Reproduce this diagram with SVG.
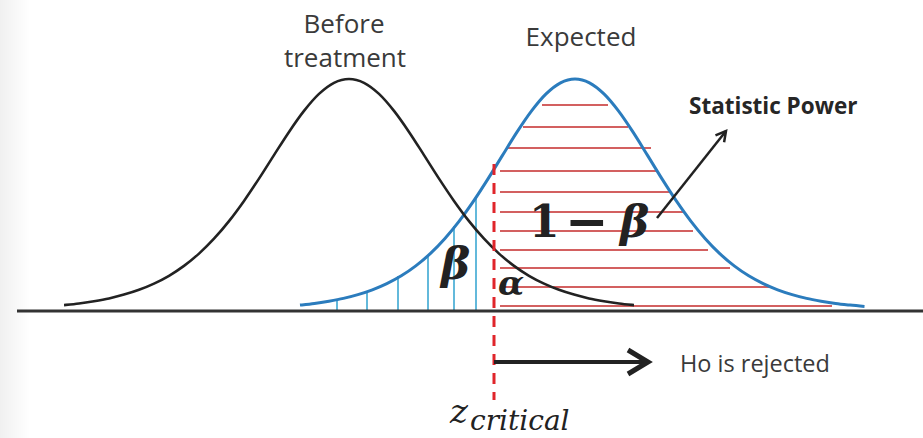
<svg xmlns="http://www.w3.org/2000/svg" xmlns:xlink="http://www.w3.org/1999/xlink" width="923" height="438" viewBox="0 0 923 438">
<style>
.lbl{font-family:"Open Sans","Noto Sans","Liberation Sans",sans-serif;fill:#3a3a3a}
.math{font-family:"DejaVu Serif","Liberation Serif",serif;fill:#222}
.red{stroke:#c42b2b;stroke-width:1.6}
.vb{stroke:#2fa2cf;stroke-width:1.5}
.arrow{stroke:#222;fill:none}
</style>
<defs>
<linearGradient id="edge" x1="0" y1="0" x2="1" y2="0">
<stop offset="0" stop-color="#f0f0f0"/>
<stop offset="1" stop-color="#ffffff"/>
</linearGradient>
<clipPath id="blackclip"><rect x="-285" y="0" width="570" height="438"/></clipPath>
<path id="bell" fill="none" d="M-285,304.1 C-280,303.61 -275,303.15 -270,302.5 C-265,301.85 -260,301.05 -255,300.2 C-250,299.35 -245,298.5 -240,297.4 C-235,296.3 -230,295.03 -225,293.6 C-220,292.17 -215,290.63 -210,288.8 C-205,286.97 -200,284.93 -195,282.6 C-190,280.27 -185,277.75 -180,274.8 C-175,271.85 -170,268.6 -165,264.9 C-160,261.2 -155,257.13 -150,252.6 C-145,248.07 -140,243.12 -135,237.7 C-130,232.28 -125,226.4 -120,220.1 C-115,213.8 -110,206.98 -105,199.9 C-100,192.82 -95,185.23 -90,177.6 C-85,169.97 -80,161.88 -75,154.1 C-70,146.32 -65,138.27 -60,130.9 C-55,123.53 -50,116.23 -45,109.9 C-40,103.57 -35,97.58 -30,92.9 C-25,88.22 -20,84.28 -15,81.8 C-10,79.32 -5,78 0,78 C5,78 10,79.32 15,81.8 C20,84.28 25,88.22 30,92.9 C35,97.58 40,103.57 45,109.9 C50,116.23 55,123.53 60,130.9 C65,138.27 70,146.32 75,154.1 C80,161.88 85,169.97 90,177.6 C95,185.23 100,192.82 105,199.9 C110,206.98 115,213.8 120,220.1 C125,226.4 130,232.28 135,237.7 C140,243.12 145,248.07 150,252.6 C155,257.13 160,261.2 165,264.9 C170,268.6 175,271.85 180,274.8 C185,277.75 190,280.27 195,282.6 C200,284.93 205,286.97 210,288.8 C215,290.63 220,292.17 225,293.6 C230,295.03 235,296.3 240,297.4 C245,298.5 250,299.35 255,300.2 C260,301.05 265,301.85 270,302.5 C275,303.15 280,303.61 285,304.1 C290,304.6 295,305 300,305.4" vector-effect="non-scaling-stroke"/>
<marker id="chevBig" markerUnits="userSpaceOnUse" markerWidth="28" markerHeight="30" refX="21" refY="14" orient="auto" overflow="visible">
<path d="M1,2 L21,14 L1,26" fill="none" stroke="#222" stroke-width="5"/>
</marker>
<marker id="chevSmall" markerUnits="userSpaceOnUse" markerWidth="16" markerHeight="16" refX="11" refY="6.5" orient="auto" overflow="visible">
<path d="M1,1 L11,6.5 L1,12" fill="none" stroke="#222" stroke-width="2.5"/>
</marker>
</defs>
<rect width="923" height="438" fill="#ffffff"/>
<rect width="30" height="438" fill="url(#edge)"/>

<g id="power-hatching">
<line class="red" x1="542" y1="105" x2="608" y2="105"/>
<line class="red" x1="523" y1="127" x2="628" y2="127"/>
<line class="red" x1="507" y1="148" x2="651" y2="148"/>
<line class="red" x1="500" y1="171" x2="657" y2="171"/>
<line class="red" x1="500" y1="192" x2="670" y2="192"/>
<line class="red" x1="500" y1="212" x2="685" y2="212"/>
<line class="red" x1="500" y1="231" x2="693" y2="231"/>
<line class="red" x1="500" y1="250" x2="708" y2="250"/>
<line class="red" x1="500" y1="268" x2="730" y2="268"/>
<line class="red" x1="500" y1="287" x2="772" y2="287"/>
<line class="red" x1="500" y1="306" x2="832" y2="306"/>
</g>

<g id="beta-hatching">
<line class="vb" x1="337" y1="299.5" x2="337" y2="310"/>
<line class="vb" x1="367" y1="291.5" x2="367" y2="310"/>
<line class="vb" x1="398" y1="276" x2="398" y2="310"/>
<line class="vb" x1="428" y1="255" x2="428" y2="310"/>
<line class="vb" x1="454" y1="226" x2="454" y2="310"/>
<line class="vb" x1="476" y1="197" x2="476" y2="310"/>
</g>

<g id="axis">
<line x1="17" y1="311" x2="923" y2="311" stroke="#333" stroke-width="3"/>
</g>

<g id="expected-curve">
<use xlink:href="#bell" transform="translate(575 1) scale(0.965 1)" stroke="#2b7cbd" stroke-width="3"/>
</g>

<g id="before-curve">
<use xlink:href="#bell" transform="translate(349 1)" stroke="#222" stroke-width="2.6" clip-path="url(#blackclip)"/>
</g>

<g id="critical-line">
<line x1="494" y1="164" x2="494" y2="400" stroke="#e0252b" stroke-width="3" stroke-dasharray="11 8"/>
</g>

<g id="connectors">
<line class="arrow" x1="494" y1="362" x2="648" y2="362" stroke-width="4" marker-end="url(#chevBig)"/>
<line class="arrow" x1="657" y1="218" x2="726" y2="131" stroke-width="2.5" marker-end="url(#chevSmall)"/>
</g>

<g id="before-label">
<text class="lbl" x="344" y="33" font-size="26" text-anchor="middle">Before</text>
<text class="lbl" x="345" y="67" font-size="26" text-anchor="middle">treatment</text>
</g>
<g id="expected-label">
<text class="lbl" x="581" y="46" font-size="26" text-anchor="middle">Expected</text>
</g>
<g id="power-label">
<text class="lbl" x="689" y="114" font-size="22.5" font-weight="bold" style="fill:#262626">Statistic Power</text>
</g>
<g id="reject-label">
<text class="lbl" x="680" y="372" font-size="23.5">Ho is rejected</text>
</g>

<g id="math-labels">
<text class="math" y="237" font-size="44" font-weight="bold"><tspan x="529">1</tspan><tspan x="565" y="239" font-size="52" style="font-family:'DejaVu Sans',sans-serif">−</tspan><tspan x="620" y="237" font-style="italic">β</tspan></text>
<text class="math" x="441" y="279" font-size="44" font-weight="bold" font-style="italic">β</text>
<text class="math" x="498" y="295" font-size="34" font-weight="bold" font-style="italic">α</text>
<text class="math" x="450" y="423" font-size="34" font-style="italic">z</text>
<text class="math" x="470" y="430" font-size="28" font-style="italic">critical</text>
</g>
</svg>
